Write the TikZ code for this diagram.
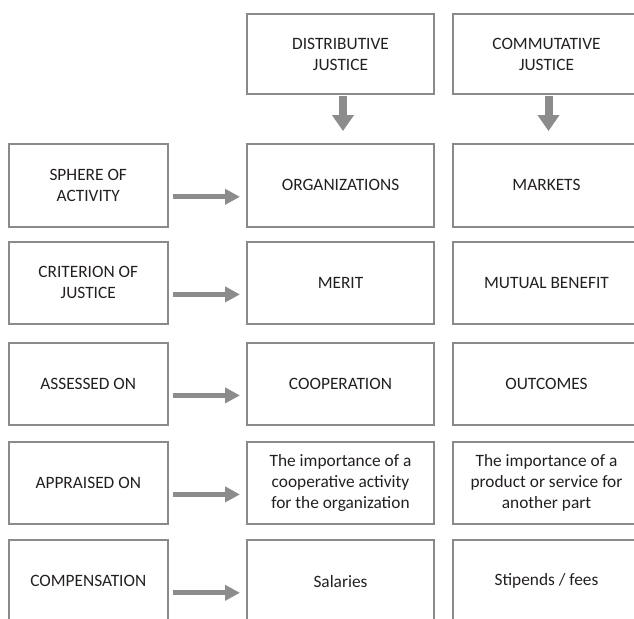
\documentclass[tikz,border=0pt]{standalone}
\usepackage{fontspec}
\setmainfont{Carlito}
\usetikzlibrary{arrows.meta,calc}
\definecolor{boxgray}{HTML}{8A8A8A}
\definecolor{arrowgray}{HTML}{8C8C8C}
\definecolor{txt}{HTML}{231F20}
\begin{document}
\begin{tikzpicture}[x=0.75pt,y=-0.75pt,
  box/.style={draw=boxgray,line width=1.5pt,inner sep=0pt,align=center,
    text=txt,font=\fontsize{13}{15.75}\selectfont,minimum height=61.9pt},
  leftbox/.style={box,minimum width=118.9pt},
  colbox/.style={box,minimum width=140.25pt},
  headbox/.style={colbox,minimum height=60pt},
  harrow/.style={draw=arrowgray,line width=3.75pt,
    -{Triangle[length=11.25pt,width=11.25pt,fill=arrowgray]},
    shorten <=3pt,shorten >=4.5pt},
  varrow/.style={draw=arrowgray,line width=6pt,
    -{Triangle[length=12pt,width=15.75pt,fill=arrowgray]},
    shorten <=0.5pt,shorten >=9pt}
]
\useasboundingbox (0,0) rectangle (634,618);
\clip (0,0) rectangle (634,618);

% headers
\node[headbox] (D) at (340.5,54) {DISTRIBUTIVE\\JUSTICE};
\node[headbox] (C) at (546.5,54) {COMMUTATIVE\\JUSTICE};

% rows
\node[leftbox] (L1) at (88.25,185.3) {SPHERE OF\\ACTIVITY};
\node[colbox]  (M1) at (340.5,185.3) {ORGANIZATIONS};
\node[colbox]  (R1) at (546.5,185.3) {MARKETS};

\node[leftbox] (L2) at (88.25,282.9) {CRITERION OF\\JUSTICE};
\node[colbox]  (M2) at (340.5,282.9) {MERIT};
\node[colbox]  (R2) at (546.5,282.9) {MUTUAL BENEFIT};

\node[leftbox] (L3) at (88.25,383.9) {ASSESSED ON};
\node[colbox]  (M3) at (340.5,383.9) {COOPERATION};
\node[colbox]  (R3) at (546.5,383.9) {OUTCOMES};

\node[leftbox] (L4) at (88.25,482.9) {APPRAISED ON};
\node[colbox]  (M4) at (340.5,482.9) {The importance of a\\cooperative activity\\for the organization};
\node[colbox]  (R4) at (546.5,482.9) {The importance of a\\product or service for\\another part};

\node[leftbox] (L5) at (88.25,581.3) {COMPENSATION};
\node[colbox]  (M5) at (340.5,581.3) {Salaries};
\node[colbox]  (R5) at (546.5,581.3) {Stipends / fees};

% vertical arrows
\draw[varrow] ($(D.south)+(2.5,0)$) -- ($(M1.north)+(2.5,0)$);
\draw[varrow] ($(C.south)+(2,0)$) -- ($(R1.north)+(2,0)$);

% horizontal arrows
\foreach \i in {1,...,5}{
  \draw[harrow] ($(L\i.east)+(0,11.5)$) -- ($(M\i.west)+(0,11.5)$);
}
\end{tikzpicture}
\end{document}
